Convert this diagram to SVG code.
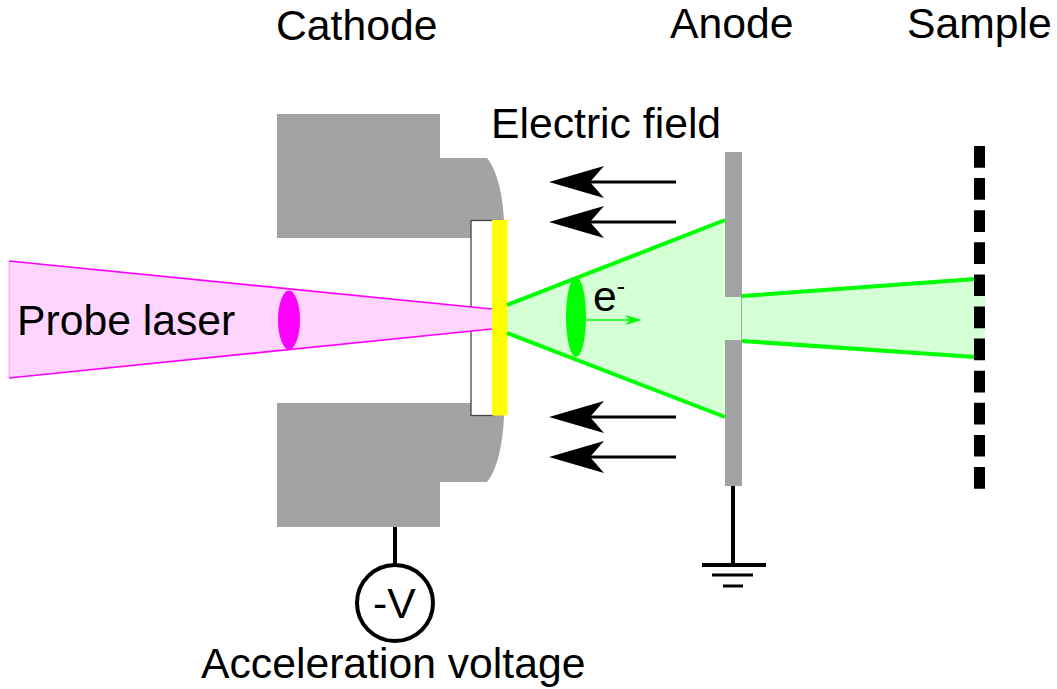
<svg xmlns="http://www.w3.org/2000/svg" width="1057" height="689" viewBox="0 0 1057 689">
<style>
text{font-family:"Liberation Sans",Arial,sans-serif;font-size:42.7px;fill:#000}
.g{fill:#a3a3a3}
.b{stroke:#0f0;stroke-width:4;fill:none}
.k{stroke:#000;stroke-width:3;fill:none}
</style>
<defs>
<marker id="ah" markerUnits="userSpaceOnUse" markerWidth="56" markerHeight="34" refX="14" refY="17" orient="auto"><path d="M55 17L0 1L14 17L0 33Z" fill="#000"/></marker>
<marker id="eh" markerUnits="userSpaceOnUse" markerWidth="18" markerHeight="12" refX="12" refY="6" orient="auto"><path d="M17 6L0 1L5 6L0 11Z" fill="#0f0"/></marker>
</defs>
<rect width="1057" height="689" fill="#fff"/>
<g id="cathode">
<path class="g" d="M277 114H440V158H487C497 170 503 195 504 220H471V238H277Z"/>
<path class="g" d="M277 403H471V415H504C503 445 497 470 487 482H440V527H277Z"/>
<rect x="471" y="220.500" width="22" height="195" fill="#fff" stroke="#444" stroke-width="1.300"/>
</g>
<g id="beams">
<path d="M9 261L492 309V329L9 378Z" fill="#ffd5ff"/>
<path d="M9 261V378" stroke="#f0f" stroke-opacity="0.350" stroke-width="1" fill="none"/>
<path d="M492 309L9 261M9 378L492 329" stroke="#f0f" stroke-width="1.700" fill="none"/>
<path d="M507 305L725 220V417L507 333Z" fill="#d5ffd5"/>
<path d="M725 297H742L985 278V358L742 341H725Z" fill="#d5ffd5"/>
</g>
<g id="cathode-film">
<rect x="492" y="220" width="15.500" height="195.500" fill="#ff0"/>
</g>
<g id="anode">
<rect class="g" x="725" y="152" width="17" height="145"/>
<rect class="g" x="725" y="340" width="17" height="146"/>
<path d="M741.500 297V341" stroke="#a3a3a3" stroke-width="1" fill="none"/>
</g>
<g id="connectors">
<path class="b" d="M507 305L725 220M507 333L725 417M742 296L975 279M742 341L975 357"/>
<path d="M676 182H590" class="k" marker-end="url(#ah)"/>
<path d="M676 222H590" class="k" marker-end="url(#ah)"/>
<path d="M676 417H590" class="k" marker-end="url(#ah)"/>
<path d="M676 457H590" class="k" marker-end="url(#ah)"/>
<path d="M586 320H637" stroke="#0f0" stroke-width="1.700" fill="none" marker-end="url(#eh)"/>
<path d="M395 527V566M733 486V565" stroke="#000" stroke-width="4" fill="none"/>
</g>
<g id="sample" stroke="#000" stroke-width="11" fill="none">
<path d="M979.500 146V489" stroke-dasharray="21.700 10.400"/>
</g>
<g id="ground" stroke="#000" fill="none">
<path d="M702 565H766" stroke-width="4"/>
<path d="M712 575H753M723 586H743" stroke-width="3"/>
</g>
<g id="pulses">
<ellipse cx="289" cy="320" rx="11" ry="29.500" fill="#f0f"/>
<ellipse cx="576" cy="317" rx="10" ry="40" fill="#0f0"/>
</g>
<g id="voltage">
<circle cx="395" cy="603" r="38" fill="#fff" stroke="#000" stroke-width="4"/>
<text x="373" y="618">-V</text>
</g>
<g id="labels">
<text x="276" y="40">Cathode</text>
<text x="670" y="38">Anode</text>
<text x="907" y="38">Sample</text>
<text x="491" y="138">Electric field</text>
<text x="17" y="335">Probe laser</text>
<text x="593" y="311">e<tspan font-size="25" dy="-16">-</tspan></text>
<text x="201" y="678">Acceleration voltage</text>
</g>
</svg>
